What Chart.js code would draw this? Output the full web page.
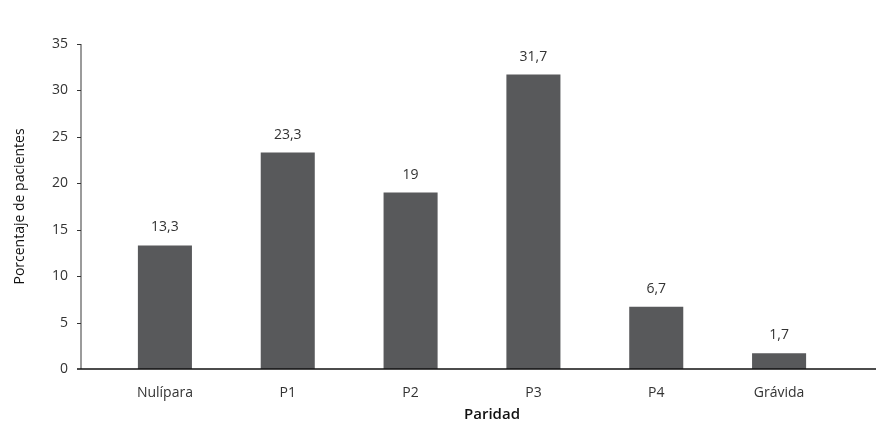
<!DOCTYPE html>
<html>
<head>
<meta charset="utf-8">
<script src="https://cdn.jsdelivr.net/npm/chart.js@4.4.1/dist/chart.umd.min.js"></script>
<style>
  html, body { margin: 0; padding: 0; background: #fff; }
  #wrap { width: 887px; height: 431px; }
</style>
</head>
<body>
<div id="wrap"><canvas id="chart-paridad"></canvas></div>
<script>
// data
var categories = ["Nulípara", "P1", "P2", "P3", "P4", "Grávida"];
var percentages = [13.3, 23.3, 19, 31.7, 6.7, 1.7];
var yTicks = [0, 5, 10, 15, 20, 25, 30, 35];

var FONT = "'Open Sans', 'DejaVu Sans', sans-serif";

function fmt(v) {
    return String(v).replace(".", ",");
}

// axis lines sit a bit outside the category band, like in the original
var axesPlugin = {
    id: "axesLines",
    afterDatasetsDraw: function (chart) {
        var ctx = chart.ctx;
        var area = chart.chartArea;
        var y = chart.scales.y;
        var axisX = area.left - 22.5;
        ctx.save();
        // y axis
        ctx.strokeStyle = "#7a7a7a";
        ctx.lineWidth = 1.5;
        ctx.beginPath();
        ctx.moveTo(axisX, y.getPixelForValue(35));
        ctx.lineTo(axisX, y.getPixelForValue(0));
        ctx.stroke();
        ctx.strokeStyle = "#333";
        ctx.lineWidth = 1;
        yTicks.forEach(function (t) {
            if (t === 0) return;
            var py = Math.round(y.getPixelForValue(t)) + 0.5;
            ctx.beginPath();
            ctx.moveTo(axisX - 4, py);
            ctx.lineTo(axisX, py);
            ctx.stroke();
        });
        // x axis
        ctx.strokeStyle = "#111";
        ctx.lineWidth = 1.5;
        var by = y.getPixelForValue(0);
        ctx.beginPath();
        ctx.moveTo(axisX - 4, by);
        ctx.lineTo(area.right + 35.5, by);
        ctx.stroke();

        // value labels over the bars
        ctx.fillStyle = "#333";
        ctx.font = "14px " + FONT;
        ctx.textAlign = "center";
        ctx.textBaseline = "middle";
        chart.getDatasetMeta(0).data.forEach(function (bar, i) {
            ctx.fillText(fmt(percentages[i]), bar.x, bar.y - 18);
        });

        // x axis title
        ctx.fillStyle = "#111";
        ctx.font = "600 15px " + FONT;
        ctx.fillText("Paridad", (area.left + area.right) / 2 + 20, 415);
        ctx.restore();
    }
};

var chartParidad = new Chart(document.getElementById("chart-paridad"), {
    type: "bar",
    data: {
        labels: categories,
        datasets: [{
            label: "Porcentaje de pacientes",
            data: percentages,
            backgroundColor: "#58595b",
            borderWidth: 0,
            barPercentage: 0.44,
            categoryPercentage: 1.0
        }]
    },
    options: {
        responsive: true,
        maintainAspectRatio: false,
        animation: false,
        layout: {
            padding: { top: 42, right: 46.5, bottom: 0, left: 0 }
        },
        plugins: {
            legend: { display: false },
            tooltip: { enabled: false }
        },
        scales: {
            x: {
                offset: true,
                grid: { display: false, drawTicks: false },
                border: { display: false },
                ticks: {
                    padding: 16,
                    color: "#333",
                    font: { family: FONT, size: 14 }
                },
                afterFit: function (scale) { scale.height = 62; }
            },
            y: {
                min: 0,
                max: 35,
                afterBuildTicks: function (scale) {
                    scale.ticks = yTicks.map(function (v) { return { value: v }; });
                },
                grid: { display: false, drawTicks: false },
                border: { display: false },
                ticks: {
                    padding: 35.5,
                    color: "#333",
                    font: { family: FONT, size: 14 }
                },
                title: {
                    display: true,
                    text: "Porcentaje de pacientes",
                    color: "#111",
                    font: { family: FONT, size: 14 },
                    padding: { top: 12, bottom: 0 }
                },
                afterFit: function (scale) { scale.width = 103.5; }
            }
        }
    },
    plugins: [axesPlugin]
});
</script>
</body>
</html>
